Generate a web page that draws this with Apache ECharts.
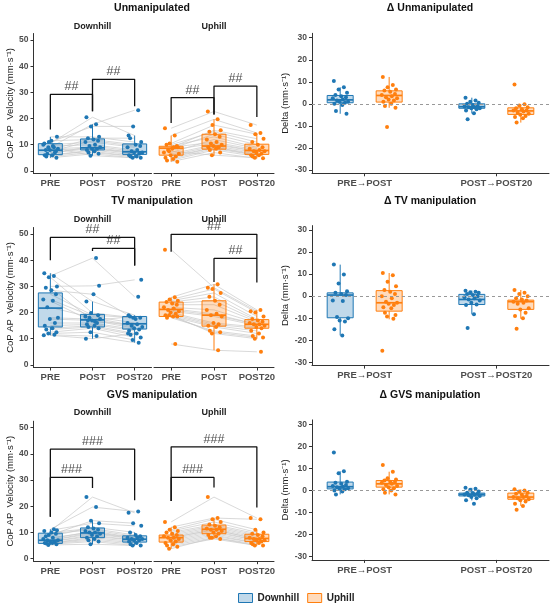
<!DOCTYPE html>
<html>
<head>
<meta charset="utf-8">
<script src="https://cdn.jsdelivr.net/npm/echarts@6/dist/echarts.min.js"></script>
<style>
  html, body { margin: 0; padding: 0; background: #fff; }
  #chart { width: 550px; height: 603px; }
</style>
</head>
<body>
<div id="chart"></div>
<script>
// NOTE - labels
const times = ['PRE', 'POST', 'POST20']
const deltaLabels = ['PRE→POST', 'POST→POST20']
const conditions = ['Unmanipulated', 'TV manipulation', 'GVS manipulation']
const groups = ['Downhill', 'Uphill']
const velocityTicks = [0, 10, 20, 30, 40, 50]
const deltaTicks = [-30, -20, -10, 0, 10, 20, 30]

// NOTE - one row per subject: [PRE, POST, POST20] (mm/s)
const unmanDown = [
  [10.5, 20.5, 13.5], [9, 17.8, 23.2], [11, 17, 17], [13, 13, 11], [8, 12.5, 12.5],
  [11.5, 12, 10], [7.5, 11.5, 9.5], [10, 11, 9], [9.5, 10, 8], [6.5, 9.5, 7.5],
  [8.5, 9, 7], [8, 8.5, 7], [7, 8.5, 6.5], [6, 8, 6], [6, 7.5, 5.5],
  [5.5, 7, 5.5], [5, 6.5, 5], [9, 5.8, 5]
]
const unmanUp = [
  [16.3, 22.7, 17.5], [13.5, 19.7, 14.5], [10.5, 17.5, 14], [9, 15.5, 12.3], [10, 15, 11],
  [8.5, 14, 10], [9.5, 13, 9], [7, 12, 8.5], [9, 11, 8], [8, 10.5, 7.5],
  [6.5, 10, 7.5], [6, 9.5, 7], [5.5, 9, 6.5], [5, 9, 6], [4.5, 8.5, 6],
  [4, 8, 5.5], [3.5, 7, 4.8], [7.5, 6, 5]
]
const tvDown = [
  [35, 24.2, 19], [34, 40.8, 26], [33.5, 19.8, 18], [30, 30.2, 32.5], [29.5, 17, 18.5],
  [28.5, 27, 17.5], [27, 19, 18], [25, 18.5, 16], [24.5, 16.5, 15.5], [22, 18, 15],
  [18, 17.5, 14.5], [17.5, 17, 14], [16, 16, 13.5], [15, 15.5, 13], [14, 15, 12],
  [13.5, 14.5, 11.5], [12.5, 14, 10.5], [12, 12.5, 9.5], [11.5, 11, 8.5], [11.3, 10, 12]
]
const tvUp = [
  [44, 29.5, 20.5], [25.8, 30.8, 21], [25, 29, 20], [24.5, 27.5, 18.5], [24, 26, 17.5],
  [23.5, 24.5, 17], [23, 23, 16.5], [22, 21, 16], [21.5, 19.5, 15.5], [21, 19, 15.5],
  [20.5, 18.5, 15], [20, 16, 14.5], [19.5, 15.5, 14], [19, 15, 13], [18.5, 14.5, 12],
  [18, 13, 11], [18.5, 12.5, 10.5], [19, 12, 10], [8, 5.6, 5]
]
const gvsDown = [
  [10.5, 23.5, 17.5], [11.2, 19.7, 18], [9, 14.5, 13.5], [10.8, 13.5, 12.5], [8.5, 12, 10],
  [10, 11.5, 9], [9.5, 11, 8.5], [7.5, 10.5, 8], [8, 10, 8], [7, 10, 7.5],
  [7, 9.5, 7.5], [6.5, 9, 7], [6.5, 8.5, 7], [6, 8, 6.5], [6, 7.5, 6],
  [5.8, 7, 5.5], [5.5, 6.5, 5], [5.2, 5.5, 5]
]
const gvsUp = [
  [14, 23.5, 15.5], [12, 15.5, 15], [11, 15, 11], [10.5, 14, 10], [10, 13, 9.5],
  [9.5, 12.5, 9], [9, 12, 8.5], [8.5, 11.5, 8], [8, 11, 7.5], [8, 11, 7.5],
  [7.5, 10.5, 7], [7, 10, 7], [6.5, 9.5, 6.5], [6, 9, 6], [5.5, 8.5, 6],
  [5, 8, 5.5], [4.5, 7.5, 5], [3.8, 8, 5]
]

// NOTE - box statistics per time point: [lower whisker, Q1, median, Q3, upper whisker]
const unmanDownBox = [[5, 6.2, 7.9, 10.4, 13], [5.8, 8, 8.8, 12.2, 17.8], [5, 6.3, 7.3, 10.3, 13.5]]
const unmanUpBox = [[3.5, 6, 8.7, 9.4, 13.5], [5.8, 8.3, 9.5, 14, 19.7], [4.8, 6.3, 7.8, 10.2, 14.5]]
const tvDownBox = [[11.3, 14.5, 21.7, 27.5, 35], [10, 14.5, 17.2, 19.3, 24.2], [8.5, 13.7, 15.7, 18.5, 19]]
const tvUpBox = [[18, 18.5, 21.2, 24, 25.8], [5.6, 14.8, 19, 24.5, 30.8], [10, 14, 15.5, 17.3, 21]]
const gvsDownBox = [[5.2, 5.8, 7, 9.7, 11.2], [5.5, 8, 9.8, 11.7, 14.5], [5, 6.3, 7.4, 8.7, 10]]
const gvsUpBox = [[3.8, 6.3, 8, 9, 12], [7.5, 9.5, 11.2, 12.8, 15.5], [5, 6.5, 7.7, 9.3, 11]]

// NOTE - significance brackets: [from, to, top, left leg end, right leg end, text]
const unmanDownSig = [[1, 2, 29.2, 15.8, 22.8, '##'], [2, 3, 35, 22.8, 24.7, '##']]
const unmanUpSig = [[1, 2, 28, 18.3, 21.5, '##'], [2, 3, 32.4, 21.5, 20.6, '##']]
const tvDownSig = [[1, 3, 48.7, 40, 38, '##'], [2, 3, 44.5, 43.5, 38, '##']]
const tvUpSig = [[1, 3, 49.9, 43.2, 40.7, '##'], [2, 3, 40.7, 31.7, 31.5, '##']]
const gvsDownSig = [[1, 3, 41.8, 16, 22.3, '###'], [1, 2, 31, 16, 27, '###']]
const gvsUpSig = [[1, 3, 42.7, 22, 19.5, '###'], [1, 2, 31, 22, 27.2, '###']]

// NOTE - deltas: [PRE→POST values, POST→POST20 values]
const unmanDeltaDown = [
  [10.4, 7.5, 6.5, 5, 4, 3.5, 3, 2.5, 2, 1.5, 1, 1, 0.5, 0, -0.5, -3.2, -4.5],
  [2.8, 1.5, 1, 0.5, 0, -0.5, -1, -1.2, -1.5, -1.5, -2, -2, -2.5, -3, -4.3, -7]
]
const unmanDeltaUp = [
  [12.2, 8.5, 7.5, 6.5, 6, 5.5, 4.5, 4, 3.5, 3, 2.5, 2, 1.5, 1, 0, -1, -1.8, -10.5],
  [8.8, -0.2, -0.8, -1.5, -2, -2.5, -3, -3, -3.5, -4, -4.5, -5, -5.5, -6, -6.5, -8.5]
]
const tvDeltaDown = [
  [14.3, 9.8, 5.7, 2.2, 1.5, 1, 0.5, -2, -2.2, -9.5, -10, -11, -11.5, -15, -17.8],
  [2.5, 2, 1.8, 1.5, 1, 0.5, 0, -0.5, -1, -1.5, -2, -3, -3.8, -4, -8.2, -14.5]
]
const tvDeltaUp = [
  [10.5, 9.5, 6.5, 4.5, 2.8, 2, 1, 0, -1, -2.5, -3, -3.5, -4, -5, -5.5, -7.5, -8.5, -9.2, -10.2, -24.8],
  [2.8, 1.5, 1, 0, -1, -1.5, -2, -2.5, -3, -3.5, -5.5, -6, -7.5, -9, -10, -14.8]
]
const gvsDeltaDown = [
  [17.2, 8.7, 7.8, 4, 3.5, 3, 2.5, 2, 1.7, 1.5, 1, 0.8, 0.5, 0, -0.5, -1.8],
  [1.2, 0.8, 0.3, -0.5, -1, -1.2, -1.5, -1.8, -2, -2.2, -2.5, -3, -3.5, -4.5, -6]
]
const gvsDeltaUp = [
  [11.5, 8.5, 5.5, 5, 4.5, 4, 3.8, 3.5, 3, 2.5, 2, 1.5, 1, 0.5, 0, -1, -1.8],
  [0.5, 0, -0.5, -1, -1.5, -2, -2.5, -3, -3, -3.5, -4, -4.5, -5, -6, -7, -8.8]
]
const unmanDeltaDownBox = [[-4.5, 0.5, 1.8, 3.8, 7.5], [-4.3, -2, -1.3, 0, 2.8]]
const unmanDeltaUpBox = [[-1.8, 0.8, 3.8, 5.9, 12.2], [-8.5, -4.8, -3.2, -1.8, -0.2]]
const tvDeltaDownBox = [[-17.8, -9.8, 0.5, 1.5, 14.3], [-8.2, -3.8, -1.5, 0.8, 2.5]]
const tvDeltaUpBox = [[-10.5, -6.8, -3, 2.5, 10.5], [-10.2, -6, -2.5, -1.8, 2.8]]
const gvsDeltaDownBox = [[-1.8, 0.7, 1.7, 3.8, 8.7], [-4.5, -2.5, -1.8, -1.2, 1.2]]
const gvsDeltaUpBox = [[-1.8, 1.5, 3, 4.5, 8.5], [-7, -4, -3, -1.2, 0.5]]

const rows = [
  { down: unmanDown, up: unmanUp, downBox: unmanDownBox, upBox: unmanUpBox, downSig: unmanDownSig, upSig: unmanUpSig,
    dDown: unmanDeltaDown, dUp: unmanDeltaUp, dDownBox: unmanDeltaDownBox, dUpBox: unmanDeltaUpBox },
  { down: tvDown, up: tvUp, downBox: tvDownBox, upBox: tvUpBox, downSig: tvDownSig, upSig: tvUpSig,
    dDown: tvDeltaDown, dUp: tvDeltaUp, dDownBox: tvDeltaDownBox, dUpBox: tvDeltaUpBox },
  { down: gvsDown, up: gvsUp, downBox: gvsDownBox, upBox: gvsUpBox, downSig: gvsDownSig, upSig: gvsUpSig,
    dDown: gvsDeltaDown, dUp: gvsDeltaUp, dDownBox: gvsDeltaDownBox, dUpBox: gvsDeltaUpBox }
]

// NOTE - style / layout
const FONT = '"Liberation Sans", Arial, sans-serif'
const COLORS = { Downhill: '#1f77b4', Uphill: '#ff7f0e' }
const FILLS = { Downhill: 'rgba(31,119,180,0.28)', Uphill: 'rgba(255,127,14,0.28)' }
const AXIS_COLOR = '#333'
const leftTop = [33.5, 227.5, 421.2]
const rightTop = [33.3, 225.6, 419.9]
const PANEL_H = 140
const facetBox = { Downhill: [33.5, 118], Uphill: [154, 120], Delta: [312, 237] }
const titleY = [8, 201, 395]
const stripY = [27, 220, 413]
// horizontal jitter pattern (fraction of a category unit)
const JIT = [-0.12, 0.07, -0.03, 0.13, -0.09, 0.02, 0.11, -0.14, 0.05, -0.06,
  0.15, -0.01, 0.09, -0.11, 0.04, -0.08, 0.12, -0.04, 0.08, -0.13]
const DODGE = 0.186

const grids = [], xAxes = [], yAxes = [], series = [], graphics = []

const tickLabel = { color: '#4d4d4d', fontWeight: 'bold', fontFamily: FONT }

const addGrid = (left, width, top) => {
  grids.push({ left, top, width, height: PANEL_H, containLabel: false, outerBoundsMode: 'none' })
  return grids.length - 1
}

const addXAxis = (g, min, max, labels) => {
  const vals = labels.map((_, i) => i + 1)
  xAxes.push({
    gridIndex: g, type: 'value', min, max,
    axisLine: { show: true, onZero: false, lineStyle: { color: AXIS_COLOR, width: 1 } },
    axisTick: { show: true, length: 3, customValues: vals, lineStyle: { color: AXIS_COLOR } },
    axisLabel: { ...tickLabel, fontSize: 9.5, margin: 5, customValues: vals, formatter: v => labels[Math.round(v) - 1] },
    splitLine: { show: false }
  })
}

const addYAxis = (g, min, max, ticks, show, name, gap) => {
  yAxes.push({
    gridIndex: g, type: 'value', min, max, show,
    name, nameLocation: 'middle', nameGap: gap, nameRotate: 90,
    nameTextStyle: { fontSize: 9.5, color: '#222', fontFamily: FONT },
    axisLine: { show: true, onZero: false, lineStyle: { color: AXIS_COLOR, width: 1 } },
    axisTick: { show: true, length: 3, customValues: ticks, lineStyle: { color: AXIS_COLOR } },
    axisLabel: { ...tickLabel, fontSize: 8.5, margin: 5, customValues: ticks },
    splitLine: { show: false }
  })
}

// NOTE - box without whisker caps (ggplot look), drawn through the axis scales
const boxSeries = (g, name, data, halfWidth) => ({
  type: 'custom', name, xAxisIndex: g, yAxisIndex: g, z: 2, silent: true,
  encode: { x: 0, y: [1, 2, 3, 4, 5] },
  data,
  renderItem: (params, api) => {
    const x = api.value(0)
    const [lo, q1, med, q3, hi] = [1, 2, 3, 4, 5].map(i => api.coord([x, api.value(i)])[1])
    const cx = api.coord([x, 0])[0]
    const stroke = COLORS[name]
    return {
      type: 'group',
      children: [
        { type: 'line', shape: { x1: cx, y1: lo, x2: cx, y2: q1 }, style: { stroke, lineWidth: 1 } },
        { type: 'line', shape: { x1: cx, y1: q3, x2: cx, y2: hi }, style: { stroke, lineWidth: 1 } },
        { type: 'rect', shape: { x: cx - halfWidth, y: q3, width: halfWidth * 2, height: q1 - q3 },
          style: { fill: FILLS[name], stroke, lineWidth: 1 } },
        { type: 'line', shape: { x1: cx - halfWidth, y1: med, x2: cx + halfWidth, y2: med }, style: { stroke, lineWidth: 1.7 } }
      ]
    }
  }
})

// NOTE - facet with spaghetti lines, box plots, points and brackets
const renderFacet = (r, group, subjects, box, sig) => {
  const [left, width] = facetBox[group]
  const g = addGrid(left, width, leftTop[r])
  addXAxis(g, 0.6, 3.4, times)
  addYAxis(g, -1, 52.5, velocityTicks, group === 'Downhill', 'CoP AP  Velocity (mm·s⁻¹)', 16)

  subjects.forEach(s => {
    series.push({
      type: 'line', xAxisIndex: g, yAxisIndex: g, silent: true, symbol: 'none', z: 1,
      data: s.map((v, i) => [i + 1, v]),
      lineStyle: { color: '#c8c8c8', width: 0.7 }
    })
  })

  series.push(boxSeries(g, group, box.map((b, i) => [i + 1, ...b]), 12))

  series.push({
    type: 'scatter', xAxisIndex: g, yAxisIndex: g, z: 3, symbolSize: 4,
    data: subjects.flatMap((s, k) => s.map((v, i) => [i + 1 + JIT[k % JIT.length] * 1.2, v])),
    itemStyle: { color: COLORS[group], opacity: 1 }
  })

  sig.forEach(([a, b, top, la, lb, text]) => {
    series.push({
      type: 'line', xAxisIndex: g, yAxisIndex: g, silent: true, symbol: 'none', z: 4,
      data: [[a, la], [a, top], [b, top], [b, lb]],
      lineStyle: { color: '#111', width: 1.3 }
    })
    series.push({
      type: 'scatter', xAxisIndex: g, yAxisIndex: g, silent: true, symbolSize: 0, z: 4,
      data: [[(a + b) / 2, top]],
      label: { show: true, position: 'top', distance: 1, formatter: text, fontSize: 12.5, color: '#222', fontFamily: FONT }
    })
  })

  graphics.push({
    type: 'text', x: left + width / 2, y: stripY[r],
    style: { text: group, font: `bold 9px ${FONT}`, fill: '#222', textAlign: 'center', textVerticalAlign: 'middle' }
  })
}

// NOTE - delta panel
const renderDelta = (r, row) => {
  const [left, width] = facetBox.Delta
  const g = addGrid(left, width, rightTop[r])
  addXAxis(g, 0.6, 2.4, deltaLabels)
  addYAxis(g, -31.5, 32, deltaTicks, true, 'Delta (mm·s⁻¹)', 20)

  const sets = [['Downhill', row.dDown, row.dDownBox, -DODGE], ['Uphill', row.dUp, row.dUpBox, DODGE]]
  sets.forEach(([group, vals, box, off]) => {
    series.push(boxSeries(g, group, box.map((b, i) => [i + 1 + off, ...b]), 13))
  })
  // dashed zero reference
  series.push({
    type: 'line', xAxisIndex: g, yAxisIndex: g, silent: true, symbol: 'none', z: 1,
    data: [], markLine: {
      silent: true, symbol: 'none', label: { show: false },
      lineStyle: { color: '#999', type: [3, 3], width: 1 },
      data: [{ yAxis: 0 }]
    }
  })
  sets.forEach(([group, vals, box, off]) => {
    series.push({
      type: 'scatter', xAxisIndex: g, yAxisIndex: g, z: 3, symbolSize: 4,
      data: vals.flatMap((list, i) => list.map((v, k) => [i + 1 + off + JIT[k % JIT.length] * 0.4, v])),
      itemStyle: { color: COLORS[group], opacity: 1 }
    })
  })
}

rows.forEach((row, r) => {
  renderFacet(r, 'Downhill', row.down, row.downBox, row.downSig)
  renderFacet(r, 'Uphill', row.up, row.upBox, row.upSig)
  renderDelta(r, row)
  graphics.push({
    type: 'text', x: 152, y: titleY[r],
    style: { text: conditions[r], font: `bold 10.5px ${FONT}`, fill: '#111', textAlign: 'center', textVerticalAlign: 'middle' }
  })
  graphics.push({
    type: 'text', x: 430, y: titleY[r],
    style: { text: 'Δ ' + conditions[r], font: `bold 10.5px ${FONT}`, fill: '#111', textAlign: 'center', textVerticalAlign: 'middle' }
  })
})

const myChart = echarts.init(document.querySelector('#chart'), null, { renderer: 'canvas' })
const option = {
  animation: false,
  backgroundColor: '#fff',
  grid: grids,
  xAxis: xAxes,
  yAxis: yAxes,
  series,
  graphic: graphics,
  legend: {
    left: 233, top: 588, itemWidth: 14, itemHeight: 9, itemGap: 8, icon: 'rect',
    selectedMode: false,
    textStyle: { fontSize: 10, fontWeight: 'bold', color: '#222', fontFamily: FONT },
    data: groups.map(name => ({
      name, itemStyle: { color: FILLS[name], borderColor: COLORS[name], borderWidth: 1 }
    }))
  }
}
myChart.setOption(option)
</script>
</body>
</html>
